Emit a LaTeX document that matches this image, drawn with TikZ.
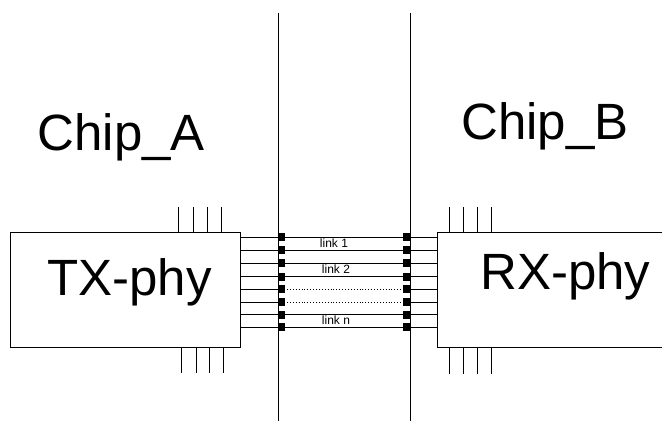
\documentclass[tikz,border=0pt]{standalone}
\usepackage{fontspec}
\setmainfont{Liberation Sans}
\begin{document}
\begin{tikzpicture}[x=1pt,y=-1pt,
  phybox/.style={draw, line width=1pt, rectangle, inner sep=0pt},
  bigtext/.style={inner sep=0pt, anchor=base west, font=\fontsize{51}{51}\selectfont},
  linktext/.style={inner sep=0pt, anchor=base, font=\fontsize{12}{12}\selectfont},
  wire/.style={line width=0.9pt},
  pin/.style={line width=1pt},
  pad/.style={fill=black}
]
\useasboundingbox (0,0) rectangle (662,421);
\clip (0,0) rectangle (662,421);

% chip boundaries
\coordinate (bAt) at (278,13);
\coordinate (bAb) at (278,421);
\coordinate (bBt) at (410,13);
\coordinate (bBb) at (410,421);
\draw[line width=1pt] (bAt) -- (bAb);
\draw[line width=1pt] (bBt) -- (bBb);

% boxes
\node[phybox, minimum width=230pt, minimum height=115pt] (tx) at (125,289.5) {};
\node[phybox, minimum width=263pt, minimum height=115pt] (rx) at (568.5,289.5) {};

% labels
\node[bigtext] (chipa) at (37.5,150) {Chip\_A};
\node[bigtext] (chipb) at (461,139) {Chip\_B};
\node[bigtext] (txl) at (47,295) {TX-phy};
\node[bigtext] (rxl) at (480,289) {RX-phy};

% pins
\foreach \x in {178,193,207,221} \draw[pin] (\x,207) -- (\x,232);
\foreach \x in {181,196,209,223} \draw[pin] (\x,347) -- (\x,373);
\foreach \x in {449,463,477,491} {
  \draw[pin] (\x,207) -- (\x,232);
  \draw[pin] (\x,347) -- (\x,374);
}

% solid links
\foreach \y in {237,250,263,276.5,314.5,327} {
  \draw[wire] (tx.east |- 0,\y) -- (rx.west |- 0,\y);
}
% dotted links
\foreach \y in {289,302} {
  \draw[wire] (tx.east |- 0,\y) -- (285,\y);
  \draw[wire, dotted, line width=0.8pt] (287,\y) -- (402,\y);
  \draw[wire] (403,\y) -- (rx.west |- 0,\y);
}
% pads
\foreach \y in {237,250,263,276.5,289,302,314.5,327} {
  \fill[pad] (277.5,\y-4) rectangle (285,\y+4);
  \fill[pad] (403,\y-4) rectangle (410.5,\y+4);
}

\node[linktext] (l1) at (334,247.5) {link 1};
\node[linktext] (l2) at (336,273.5) {link 2};
\node[linktext] (ln) at (336,324.5) {link n};
\end{tikzpicture}
\end{document}
